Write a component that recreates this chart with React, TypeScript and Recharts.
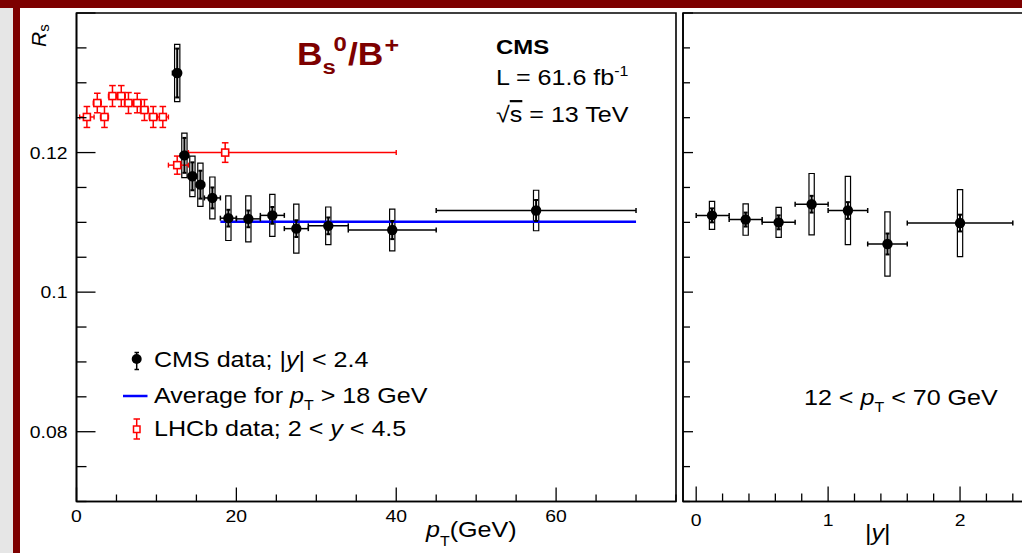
import React from "react";
import {
  ErrorBar,
  ReferenceArea,
  ReferenceLine,
  Scatter,
  ScatterChart,
  XAxis,
  YAxis,
} from "recharts";

// CMS, Rs vs pT (12 < pT < 70 GeV, |y| < 2.4)
const cmsPt = [12.6, 13.5, 14.5, 15.5, 17.0, 19.0, 21.5, 24.5, 27.5, 31.5, 39.5, 57.5];
const cmsPtBin: [number, number][] = [
  [0.6, 0.4], [0.5, 0.5], [0.5, 0.5], [0.5, 0.5], [1, 1], [1, 1],
  [1.5, 1.5], [1.5, 1.5], [1.5, 1.5], [2.5, 2.5], [5.5, 5.5], [12.5, 12.5],
];
const cmsPtRs = [0.1314, 0.1196, 0.1166, 0.1154, 0.1135, 0.1106, 0.1105, 0.111, 0.1091, 0.1095, 0.1089, 0.1117];
const cmsPtStat = [0.0035, 0.0025, 0.002, 0.002, 0.0015, 0.0012, 0.0012, 0.0012, 0.0012, 0.0012, 0.0013, 0.0015];
const cmsPtSyst = [0.0041, 0.0032, 0.0029, 0.0031, 0.003, 0.0032, 0.0033, 0.003, 0.0035, 0.0027, 0.003, 0.0029];

// average for pT > 18 GeV
const avgRange = [18, 70];
const avgRs = 0.1101;

// LHCb, 2 < y < 4.5
const lhcbPt = [1.3, 2.6, 3.5, 4.5, 5.6, 6.5, 7.6, 8.5, 9.6, 10.8, 12.6, 18.6];
const lhcbPtBin: [number, number][] = [
  [0.9, 0.9], [0.5, 0.5], [0.5, 0.5], [0.5, 0.5], [0.5, 0.5], [0.5, 0.5],
  [0.5, 0.5], [0.5, 0.5], [0.5, 0.5], [0.7, 0.7], [1.1, 1.4], [4.6, 21.4],
];
const lhcbRs = [0.1251, 0.1271, 0.1251, 0.1281, 0.1281, 0.1271, 0.1271, 0.1261, 0.1251, 0.1251, 0.1182, 0.12];
const lhcbErr = [0.0015, 0.0014, 0.0015, 0.0015, 0.0015, 0.0015, 0.0014, 0.0015, 0.0015, 0.0015, 0.0013, 0.0014];

// CMS, Rs vs |y| (12 < pT < 70 GeV)
const cmsY = [0.12, 0.375, 0.625, 0.875, 1.15, 1.45, 2.0];
const cmsYBin: [number, number][] = [
  [0.12, 0.13], [0.125, 0.125], [0.125, 0.125], [0.125, 0.125], [0.15, 0.15], [0.15, 0.15], [0.4, 0.4],
];
const cmsYRs = [0.111, 0.1104, 0.11, 0.1126, 0.1117, 0.1069, 0.1099];
const cmsYStat = [0.001, 0.001, 0.001, 0.0012, 0.0012, 0.0015, 0.0012];
const cmsYSyst = [0.002, 0.00225, 0.00215, 0.0044, 0.0049, 0.0046, 0.0048];

// axes
const yTicks = [0.07, 0.075, 0.08, 0.085, 0.09, 0.095, 0.1, 0.105, 0.11, 0.115, 0.12, 0.125, 0.13, 0.135, 0.14];
const yMajor = [0.08, 0.1, 0.12, 0.14];
const yLabelled = [0.08, 0.1, 0.12];
const ptTicks = [0, 5, 10, 15, 20, 25, 30, 35, 40, 45, 50, 55, 60, 65, 70, 75];
const ptMajor = [0, 20, 40, 60];
const absYTicks = [0, 0.2, 0.4, 0.6, 0.8, 1, 1.2, 1.4, 1.6, 1.8, 2, 2.2, 2.4];
const absYMajor = [0, 1, 2];

const cmsPtData = cmsPt.map((x, i) => ({ x, y: cmsPtRs[i], ex: cmsPtBin[i], ey: cmsPtStat[i], sy: cmsPtSyst[i] }));
const lhcbData = lhcbPt.map((x, i) => ({ x, y: lhcbRs[i], ex: lhcbPtBin[i], ey: lhcbErr[i] }));
const cmsYData = cmsY.map((x, i) => ({ x, y: cmsYRs[i], ex: cmsYBin[i], ey: cmsYStat[i], sy: cmsYSyst[i] }));

const STRETCH = 1.14; // the slide picture is a bit wider than tall
const RED = "#ff0000";
const MAROON = "#7d0000";
const near = (list: number[], v: number) => list.some((m) => Math.abs(m - v) < 1e-9);

function T({ x, y, size, anchor = "start", weight, fill = "#000", children }: any) {
  return (
    <text
      transform={`translate(${x},${y}) scale(${STRETCH},1)`}
      fontSize={size}
      textAnchor={anchor}
      fontWeight={weight}
      fill={fill}
    >
      {children}
    </text>
  );
}

const I = ({ children }: any) => <tspan fontStyle="italic">{children}</tspan>;

const LeftYTick = ({ x, y, payload }: any) => {
  const v = payload.value;
  const major = near(yMajor, v);
  return (
    <g>
      <line x1={x} x2={x + (major ? 19 : 10)} y1={y} y2={y} stroke="#000" strokeWidth={1.3} />
      {near(yLabelled, v) && (
        <T x={x - 9} y={y + 6} size={17} anchor="end">
          {String(v)}
        </T>
      )}
    </g>
  );
};

const RightYTick = ({ x, y, payload }: any) => (
  <line x1={x} x2={x + (near(yMajor, payload.value) ? 10 : 7)} y1={y} y2={y} stroke="#000" strokeWidth={1.3} />
);

const PtTick = ({ x, y, payload }: any) => {
  const major = near(ptMajor, payload.value);
  return (
    <g>
      <line x1={x} x2={x} y1={y} y2={y - (major ? 14 : 7)} stroke="#000" strokeWidth={1.3} />
      {major && (
        <T x={x} y={y + 20} size={17} anchor="middle">
          {String(payload.value)}
        </T>
      )}
    </g>
  );
};

const AbsYTick = ({ x, y, payload }: any) => {
  const major = near(absYMajor, payload.value);
  return (
    <g>
      <line x1={x} x2={x} y1={y} y2={y - (major ? 15 : 8)} stroke="#000" strokeWidth={1.3} />
      {major && (
        <T x={x} y={y + 24} size={17} anchor="middle">
          {String(payload.value)}
        </T>
      )}
    </g>
  );
};

const Dot = (p: any) => <circle cx={p.cx} cy={p.cy} r={5.2} fill="#000" />;
const OpenSquare = (p: any) => (
  <rect x={p.cx - 3.5} y={p.cy - 3.5} width={7} height={7} fill="#fff" stroke={RED} strokeWidth={1.6} />
);

const axisLine = { stroke: "#000", strokeWidth: 1.6 };

export default function App() {
  return (
    <div
      style={{
        position: "fixed",
        left: 0,
        top: 0,
        width: 1022,
        height: 553,
        overflow: "hidden",
        background: "#fff",
        fontFamily: '"Liberation Sans", Arial, sans-serif',
      }}
    >
      {/* slide decoration */}
      <div style={{ position: "absolute", left: 0, top: 0, width: 13, height: 553, background: "#e6e6e6" }} />
      <div style={{ position: "absolute", left: 13, top: 0, width: 7, height: 553, background: MAROON }} />
      <div style={{ position: "absolute", left: 0, top: 0, width: 1022, height: 8, background: MAROON }} />

      <div style={{ position: "absolute", left: 0, top: 0 }}>
        <ScatterChart width={690} height={553} margin={{ top: 13, right: 14, bottom: 0, left: 0 }}>
          <XAxis
            type="number"
            dataKey="x"
            domain={[0, 75]}
            ticks={ptTicks}
            interval={0}
            allowDataOverflow
            tickSize={0}
            tickMargin={0}
            tickLine={false}
            tick={PtTick}
            axisLine={axisLine}
            height={51.5}
          />
          <YAxis
            type="number"
            dataKey="y"
            domain={[0.07, 0.14]}
            ticks={yTicks}
            interval={0}
            allowDataOverflow
            tickSize={0}
            tickMargin={0}
            tickLine={false}
            tick={LeftYTick}
            axisLine={axisLine}
            width={76.5}
          />
          <ReferenceArea x1={0} x2={75} y1={0.07} y2={0.14} fill="none" stroke="#000" strokeWidth={1.6} />
          {cmsPtData.map((d, i) => (
            <ReferenceArea
              key={i}
              x1={d.x - 0.33}
              x2={d.x + 0.33}
              y1={d.y - d.sy}
              y2={d.y + d.sy}
              fill="#fff"
              fillOpacity={1}
              stroke="#000"
              strokeWidth={1.2}
            />
          ))}
          <ReferenceLine
            segment={[
              { x: avgRange[0], y: avgRs },
              { x: avgRange[1], y: avgRs },
            ]}
            stroke="#0000ff"
            strokeWidth={2.5}
          />
          <Scatter data={lhcbData} shape={OpenSquare} isAnimationActive={false}>
            <ErrorBar dataKey="ex" direction="x" width={2.5} stroke={RED} strokeWidth={1.4} />
            <ErrorBar dataKey="ey" direction="y" width={3.3} stroke={RED} strokeWidth={1.5} />
          </Scatter>
          <Scatter data={cmsPtData} shape={Dot} isAnimationActive={false}>
            <ErrorBar dataKey="ex" direction="x" width={2.5} stroke="#000" strokeWidth={1.5} />
            <ErrorBar dataKey="ey" direction="y" width={2} stroke="#000" strokeWidth={2} />
          </Scatter>
        </ScatterChart>
      </div>

      <div style={{ position: "absolute", left: 633, top: 0 }}>
        <ScatterChart width={400} height={553} margin={{ top: 13, right: 7, bottom: 0, left: 0 }}>
          <XAxis
            type="number"
            dataKey="x"
            domain={[-0.1, 2.5]}
            ticks={absYTicks}
            interval={0}
            allowDataOverflow
            tickSize={0}
            tickMargin={0}
            tickLine={false}
            tick={AbsYTick}
            axisLine={axisLine}
            height={51.5}
          />
          <YAxis
            type="number"
            dataKey="y"
            domain={[0.07, 0.14]}
            ticks={yTicks}
            interval={0}
            allowDataOverflow
            tickSize={0}
            tickMargin={0}
            tickLine={false}
            tick={RightYTick}
            axisLine={axisLine}
            width={50}
          />
          <ReferenceArea x1={-0.1} x2={2.5} y1={0.07} y2={0.14} fill="none" stroke="#000" strokeWidth={1.6} />
          {cmsYData.map((d, i) => (
            <ReferenceArea
              key={i}
              x1={d.x - 0.02}
              x2={d.x + 0.02}
              y1={d.y - d.sy}
              y2={d.y + d.sy}
              fill="#fff"
              fillOpacity={1}
              stroke="#000"
              strokeWidth={1.2}
            />
          ))}
          <Scatter data={cmsYData} shape={Dot} isAnimationActive={false}>
            <ErrorBar dataKey="ex" direction="x" width={2.5} stroke="#000" strokeWidth={1.5} />
            <ErrorBar dataKey="ey" direction="y" width={2} stroke="#000" strokeWidth={2} />
          </Scatter>
        </ScatterChart>
      </div>

      {/* text and legend */}
      <svg
        width={1022}
        height={553}
        style={{ position: "absolute", left: 0, top: 0, pointerEvents: "none" }}
      >
        <text transform="translate(46,47) rotate(-90)" fontSize={21} fontStyle="italic">
          R<tspan fontSize={15} fontStyle="normal" dy={3}>s</tspan>
        </text>

        <T x={297} y={65} size={31} weight="bold" fill={MAROON}>
          B<tspan fontSize={21} dy={9}>s</tspan>
          <tspan fontSize={21} dx={-2} dy={-23}>0</tspan>
          <tspan dx={1} dy={14}>/B</tspan>
          <tspan fontSize={22} dx={1} dy={-12}>+</tspan>
        </T>

        <T x={496} y={54} size={21} weight="bold">CMS</T>
        <T x={496} y={85} size={22}>
          L = 61.6 fb<tspan fontSize={14} dy={-9}>-1</tspan>
        </T>
        <T x={496} y={121.5} size={22}>
          √<tspan textDecoration="overline">s</tspan> = 13 TeV
        </T>

        {/* legend */}
        <line x1={136.7} x2={136.7} y1={352.5} y2={369.5} stroke="#000" strokeWidth={1.5} />
        <line x1={134.5} x2={139} y1={352.5} y2={352.5} stroke="#000" strokeWidth={1.5} />
        <line x1={134.5} x2={139} y1={369.5} y2={369.5} stroke="#000" strokeWidth={1.5} />
        <circle cx={136.7} cy={359} r={5} fill="#000" />
        <T x={154} y={366.5} size={22}>
          CMS data; |<I>y</I>| &lt; 2.4
        </T>

        <line x1={123} x2={147.5} y1={396} y2={396} stroke="#0000ff" strokeWidth={2.5} />
        <T x={154} y={402.5} size={22}>
          Average for <I>p</I>
          <tspan fontSize={14} dy={7}>T</tspan>
          <tspan dy={-7}> &gt; 18 GeV</tspan>
        </T>

        <line x1={136.7} x2={136.7} y1={419} y2={439} stroke={RED} strokeWidth={1.5} />
        <line x1={133.5} x2={140} y1={419} y2={419} stroke={RED} strokeWidth={1.5} />
        <line x1={133.5} x2={140} y1={439} y2={439} stroke={RED} strokeWidth={1.5} />
        <rect x={133.5} y={426} width={6.5} height={6.5} fill="#fff" stroke={RED} strokeWidth={1.5} />
        <T x={154} y={436} size={22}>
          LHCb data; 2 &lt; <I>y</I> &lt; 4.5
        </T>

        <T x={804} y={405} size={22}>
          12 &lt; <I>p</I>
          <tspan fontSize={14} dy={7}>T</tspan>
          <tspan dy={-7}> &lt; 70 GeV</tspan>
        </T>

        {/* axis titles */}
        <T x={426} y={537} size={22}>
          <I>p</I>
          <tspan fontSize={14} dy={9}>T</tspan>
          <tspan dy={-9}>(GeV)</tspan>
        </T>
        <T x={865} y={540} size={22}>
          |<I>y</I>|
        </T>
      </svg>
    </div>
  );
}
